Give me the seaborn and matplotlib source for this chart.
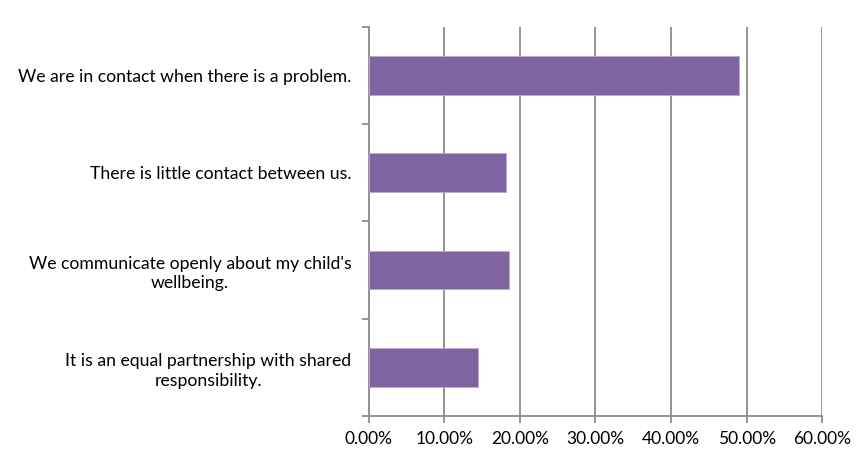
import matplotlib
matplotlib.use("Agg")
import matplotlib.pyplot as plt
import seaborn as sns
import pandas as pd
from matplotlib.ticker import FixedLocator, PercentFormatter

categories = [
    "We are in contact when there is a problem.",
    "There is little contact between us.",
    "We communicate openly about my child's\nwellbeing.",
    "It is an equal partnership with shared\nresponsibility.",
]
shares = [49.0, 18.1, 18.5, 14.5]
x_ticks = [0, 10, 20, 30, 40, 50, 60]

sns.set_theme(style="white")
plt.rcParams["font.family"] = ["Lato", "DejaVu Sans"]

df = pd.DataFrame({"answer": categories, "share": shares})

fig = plt.figure(figsize=(8.58, 4.54), dpi=100)
ax = fig.add_axes([0.4297, 0.0837, 0.5287, 0.8575])

sns.barplot(data=df, x="share", y="answer", orient="h", color="#8064A2",
            saturation=1, width=0.4, edgecolor="#B9A8CF", linewidth=0.6,
            ax=ax, zorder=3)

grid_col = "#8C8C8C"
ax.set_xlim(0, 60)
ax.set_ylim(len(categories) - 0.5, -0.5)
ax.set_xticks(x_ticks)
ax.xaxis.set_major_formatter(PercentFormatter(decimals=2))
ax.xaxis.grid(True, color=grid_col, linewidth=1.3, zorder=0)
ax.yaxis.grid(False)
ax.set_axisbelow(True)

for side in ["top", "right"]:
    ax.spines[side].set_visible(False)
for side in ["left", "bottom"]:
    ax.spines[side].set_color(grid_col)
    ax.spines[side].set_linewidth(1.3)

# category boundaries carry the y tick marks
ax.yaxis.set_minor_locator(FixedLocator([i - 0.5 for i in range(len(categories) + 1)]))
ax.tick_params(axis="y", which="major", length=0, pad=12.5, labelsize=12.7, colors="black")
ax.tick_params(axis="y", which="minor", length=5, width=1.3, color=grid_col, left=True)
ax.tick_params(axis="x", which="major", length=5, width=1.3, color=grid_col,
               bottom=True, pad=6, labelsize=12.5, labelcolor="black")
for lbl in ax.get_yticklabels():
    lbl.set_multialignment("center")
    lbl.set_linespacing(1.3)

ax.set_xlabel("")
ax.set_ylabel("")

fig.savefig("out.png", dpi=100)
